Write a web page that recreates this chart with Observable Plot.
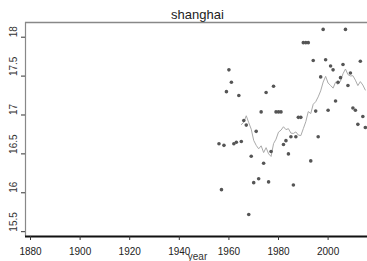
<!DOCTYPE html>
<html><head><meta charset="utf-8">
<script src="https://cdn.jsdelivr.net/npm/d3@7"></script>
<script src="https://cdn.jsdelivr.net/npm/@observablehq/plot@0.6"></script>
<style>body{margin:0;background:#fff;overflow:hidden}</style>
</head><body><div id="chart"></div>
<script>
const title = "shanghai";
const xLabel = "year";
const years = d3.range(1956, 2016);
const temps = [16.63,16.04,16.61,17.30,17.58,17.42,16.63,16.65,17.25,16.66,
  16.93,16.87,15.72,16.47,16.13,16.79,16.18,17.04,16.38,17.29,
  16.14,16.53,17.37,17.04,17.04,17.04,16.62,16.67,16.50,16.72,
  16.10,16.72,16.97,16.97,17.93,17.93,17.93,16.41,17.70,17.05,
  16.72,17.49,18.10,17.71,17.06,17.63,17.58,17.18,17.42,17.48,
  17.65,18.10,17.38,17.54,17.09,17.06,16.88,17.69,16.98,16.84];
const xTicks = [1880,1900,1920,1940,1960,1980,2000];
const yTicks = [15.5,16,16.5,17,17.5,18];

const data = years.map((y,i)=>({year:y, temp:temps[i]}));
const xDom = [1877.98, 2016.69];
const yDom = [15.438, 18.189];
const font = "Liberation Sans, Arial, sans-serif";

const chart = Plot.plot({
  width: 367, height: 261,
  marginLeft: 25, marginRight: -2, marginTop: 22, marginBottom: 25,
  style: {fontFamily: font, fontSize: "10px", color: "#222", background: "#fff"},
  x: {domain: xDom},
  y: {domain: yDom},
  marks: [
    Plot.ruleY([yDom[1]], {stroke: "#888", strokeWidth: 1.5}),
    Plot.ruleX([xDom[0]], {stroke: "#888", strokeWidth: 1.2}),
    Plot.ruleY([yDom[0]], {stroke: "#111", strokeWidth: 2}),
    Plot.axisY(yTicks, {ticks: yTicks, tickSize: 4, text: null, label: null, stroke: "#333"}),
    Plot.text(yTicks, {y: d=>d, frameAnchor: "left", dx: -12, rotate: -90, text: d=>String(d), fill: "#333", fontSize: 10}),
    Plot.axisX(xTicks, {ticks: xTicks, tickSize: 4, tickPadding: 7, label: null, tickFormat: d=>String(d), stroke: "#333", fill: "#222", fontSize: 10}),
    Plot.text([xLabel], {frameAnchor: "bottom", lineAnchor: "middle", dy: 20, fill: "#333", fontSize: 10}),
    Plot.text([title], {frameAnchor: "top", lineAnchor: "middle", dy: -8, fill: "#222", fontSize: 13}),
    Plot.lineY(data, Plot.windowY({k: 10, anchor: "end", reduce: "mean", strict: true}, {x: "year", y: "temp", stroke: "#aaa", strokeWidth: 1})),
    Plot.dot(data, {x: "year", y: "temp", r: 1.8, fill: "#555", stroke: "none"})
  ]
});
document.getElementById("chart").appendChild(chart);
</script></body></html>
